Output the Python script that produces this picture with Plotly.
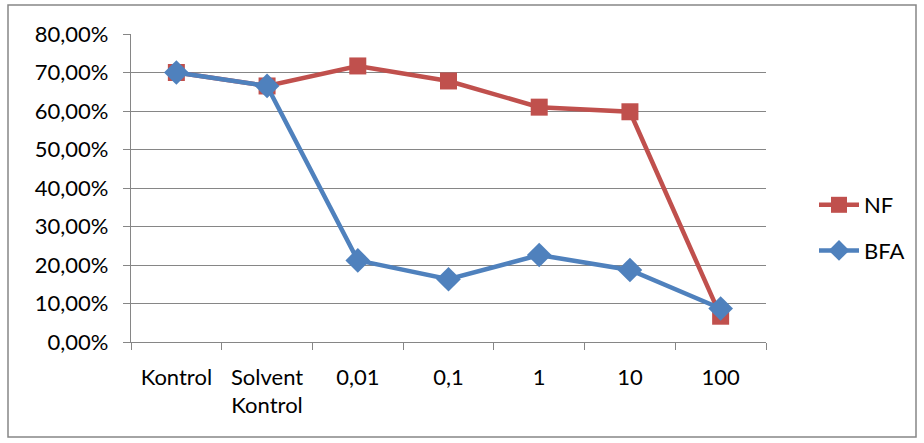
import plotly.graph_objects as go

categories = ["Kontrol", "Solvent<br>Kontrol", "0,01", "0,1", "1", "10", "100"]
nf_values = [0.700, 0.665, 0.717, 0.678, 0.610, 0.598, 0.067]
bfa_values = [0.700, 0.665, 0.212, 0.163, 0.226, 0.187, 0.087]
y_ticks = [0.0, 0.1, 0.2, 0.3, 0.4, 0.5, 0.6, 0.7, 0.8]

W, H = 924, 443
L, R, T, B = 131, 158, 34, 101
pw, ph = W - L - R, H - T - B

fig = go.Figure()
fig.add_trace(go.Scatter(
    x=categories, y=nf_values, name="NF", mode="lines+markers",
    legendgroup="nf",
    line=dict(color="#C0504D", width=4.5),
    marker=dict(symbol="square", size=17, color="#C0504D"),
))
fig.add_trace(go.Scatter(
    x=categories, y=bfa_values, name="BFA", mode="lines+markers",
    legendgroup="bfa",
    line=dict(color="#4F81BD", width=4.5),
    marker=dict(symbol="diamond", size=19, color="#4F81BD"),
))

fig.update_layout(
    width=W, height=H,
    margin=dict(l=L, r=R, t=T, b=B, pad=0),
    paper_bgcolor="white", plot_bgcolor="white",
    separators=", ",
    font=dict(family="Lato, Open Sans, sans-serif", size=22, color="black"),
    showlegend=True,
    legend=dict(
        x=(814 - L) / pw, y=(H - B - 184) / ph, xanchor="left", yanchor="top",
        bgcolor="rgba(0,0,0,0)", tracegroupgap=14,
        font=dict(size=22), itemwidth=40,
    ),
    xaxis=dict(
        type="category", range=[-0.5, 6.5],
        showgrid=False, showline=True, linecolor="#868686", linewidth=1.3,
        ticks="outside", tickson="boundaries", ticklen=7, tickcolor="#868686",
        tickwidth=1.3, ticklabelstandoff=15, fixedrange=True,
    ),
    yaxis=dict(
        range=[0, 0.8], tickvals=y_ticks, tickformat=".2%",
        showgrid=True, gridcolor="#868686", gridwidth=1.3,
        showline=True, linecolor="#868686", linewidth=1.3,
        ticks="outside", ticklen=7, tickcolor="#868686", tickwidth=1.3,
        ticklabelstandoff=10, zeroline=False, fixedrange=True,
    ),
    shapes=[dict(
        type="rect", xref="paper", yref="paper",
        x0=(8 - L) / pw, x1=(916 - L) / pw,
        y0=(H - B - 437) / ph, y1=(H - B - 5) / ph,
        line=dict(color="#868686", width=1.5), fillcolor="rgba(0,0,0,0)",
        layer="below",
    )],
)

fig.write_html("out.html")
